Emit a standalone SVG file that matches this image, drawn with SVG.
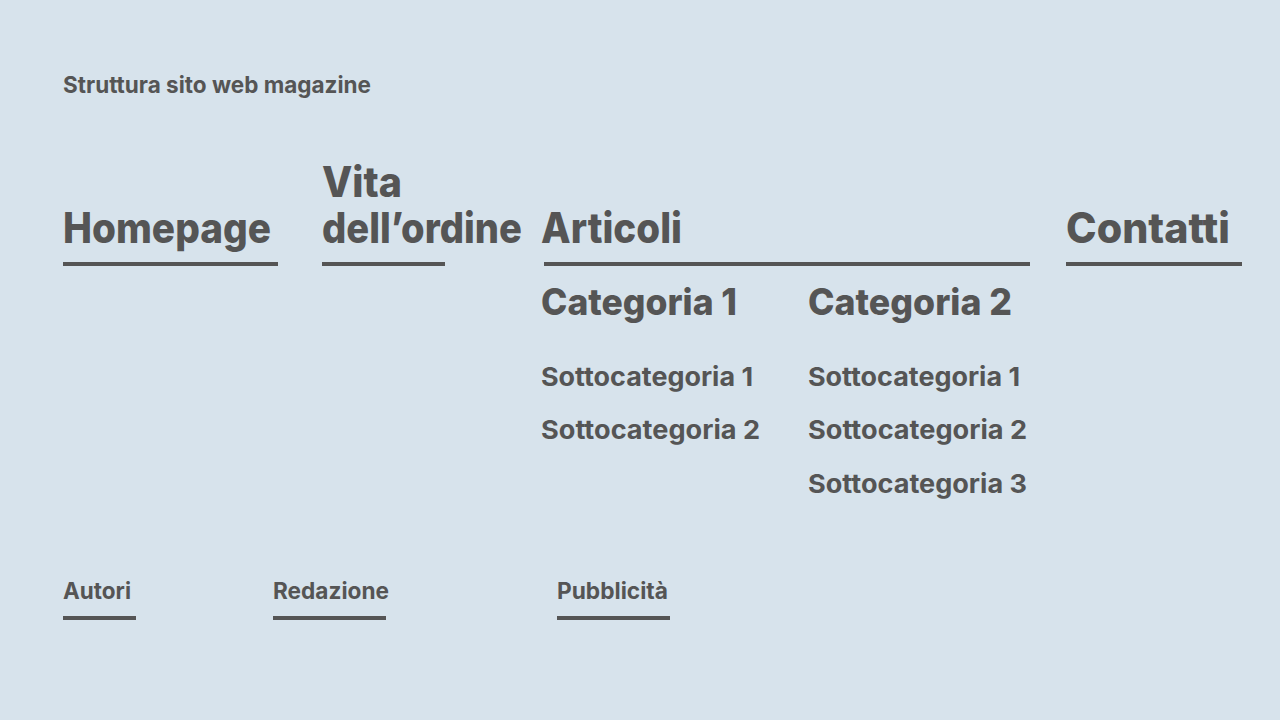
<svg xmlns="http://www.w3.org/2000/svg" width="1280" height="720" viewBox="0 0 1280 720">
<style>
text{font-family:Inter,"Liberation Sans",sans-serif;font-weight:700;fill:#555555}
.t{font-size:23px}
.h{font-size:42px;font-weight:800}
.c{font-size:37px;font-weight:800}
.s{font-size:26px}
.f{font-size:23px}
.u{stroke:#555555;stroke-width:4;fill:none}
</style>
<rect width="1280" height="720" fill="#d7e3ec"/>
<text class="t" x="63" y="93" textLength="308" lengthAdjust="spacingAndGlyphs">Struttura sito web magazine</text>
<g id="homepage">
<text class="h" x="63" y="243" textLength="208" lengthAdjust="spacingAndGlyphs">Homepage</text>
</g>
<g id="vita">
<text class="h" x="322" y="197" textLength="80" lengthAdjust="spacingAndGlyphs">Vita</text>
<text class="h" x="322" y="243" textLength="200" lengthAdjust="spacingAndGlyphs">dell’ordine</text>
</g>
<g id="articoli">
<text class="h" x="541" y="243" textLength="141" lengthAdjust="spacingAndGlyphs">Articoli</text>
</g>
<g id="contatti">
<text class="h" x="1066" y="243" textLength="164" lengthAdjust="spacingAndGlyphs">Contatti</text>
</g>
<g id="categoria1">
<text class="c" x="541" y="315" textLength="196" lengthAdjust="spacingAndGlyphs">Categoria 1</text>
<text class="s" x="541" y="386" textLength="212" lengthAdjust="spacingAndGlyphs">Sottocategoria 1</text>
<text class="s" x="541" y="439" textLength="219" lengthAdjust="spacingAndGlyphs">Sottocategoria 2</text>
</g>
<g id="categoria2">
<text class="c" x="808" y="315" textLength="204" lengthAdjust="spacingAndGlyphs">Categoria 2</text>
<text class="s" x="808" y="386" textLength="212" lengthAdjust="spacingAndGlyphs">Sottocategoria 1</text>
<text class="s" x="808" y="439" textLength="219" lengthAdjust="spacingAndGlyphs">Sottocategoria 2</text>
<text class="s" x="808" y="493" textLength="219" lengthAdjust="spacingAndGlyphs">Sottocategoria 3</text>
</g>
<g id="autori">
<text class="f" x="63" y="599" textLength="68" lengthAdjust="spacingAndGlyphs">Autori</text>
</g>
<g id="redazione">
<text class="f" x="273" y="599" textLength="116" lengthAdjust="spacingAndGlyphs">Redazione</text>
</g>
<g id="pubblicita">
<text class="f" x="557" y="599" textLength="111" lengthAdjust="spacingAndGlyphs">Pubblicità</text>
</g>
<g id="connectors">
<line class="u" x1="63" y1="264" x2="278" y2="264"/>
<line class="u" x1="322" y1="264" x2="445" y2="264"/>
<line class="u" x1="544" y1="264" x2="1030" y2="264"/>
<line class="u" x1="1066" y1="264" x2="1242" y2="264"/>
<line class="u" x1="63" y1="618" x2="136" y2="618"/>
<line class="u" x1="273" y1="618" x2="386" y2="618"/>
<line class="u" x1="557" y1="618" x2="670" y2="618"/>
</g>
</svg>
